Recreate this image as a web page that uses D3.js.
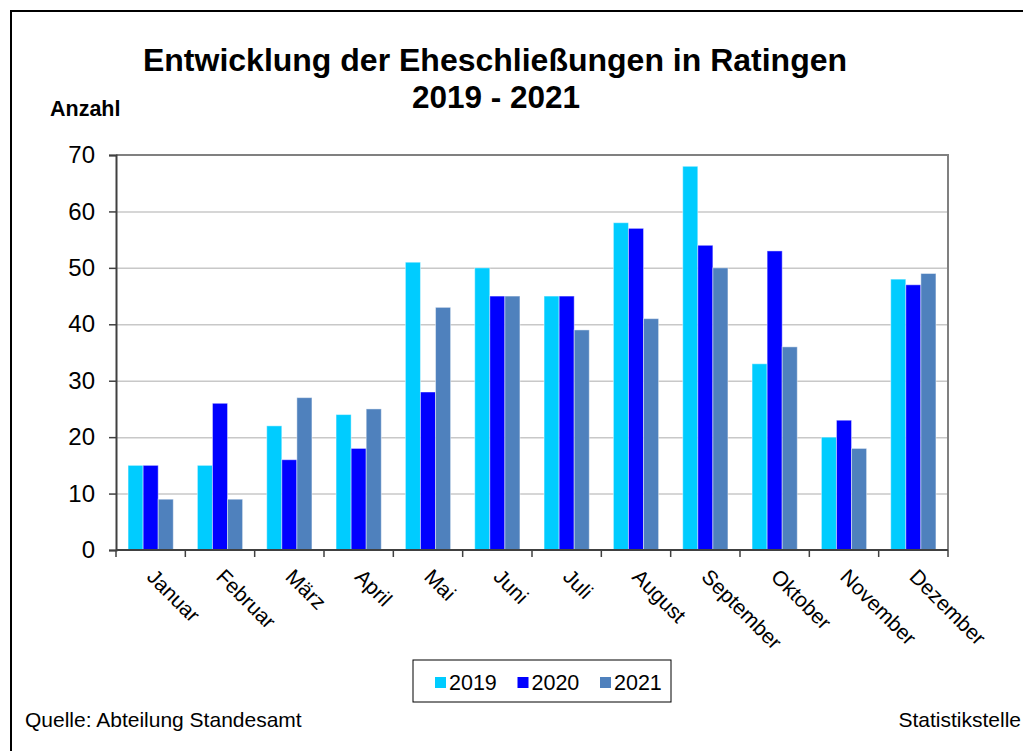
<!DOCTYPE html>
<html>
<head>
<meta charset="utf-8">
<script src="https://cdn.jsdelivr.net/npm/d3@7"></script>
<style>
  body { margin: 0; background: #fff; }
  svg { display: block; font-family: "Liberation Sans", Arial, sans-serif; }
</style>
</head>
<body>
<div id="chart"></div>
<script>
const months = ['Januar', 'Februar', 'März', 'April', 'Mai', 'Juni', 'Juli', 'August', 'September', 'Oktober', 'November', 'Dezember']
const years = ['2019', '2020', '2021']
const v2019 = [15, 15, 22, 24, 51, 50, 45, 58, 68, 33, 20, 48]
const v2020 = [15, 26, 16, 18, 28, 45, 45, 57, 54, 53, 23, 47]
const v2021 = [9, 9, 27, 25, 43, 45, 39, 41, 50, 36, 18, 49]
const yTicks = [0, 10, 20, 30, 40, 50, 60, 70]
const colors = ['#00ccff', '#0000ff', '#4f81bd']

const series = [v2019, v2020, v2021]
const W = 1023, H = 751
const plot = { left: 116, right: 948, top: 155, bottom: 550 }

const svg = d3.select('#chart').append('svg').attr('width', W).attr('height', H)

// outer frame (runs off the right and bottom edge)
svg.append('rect')
  .attr('x', 11).attr('y', 11).attr('width', W + 20).attr('height', H + 20)
  .attr('fill', 'none').attr('stroke', '#000').attr('stroke-width', 2)

const x = d3.scaleBand().domain(months).range([plot.left, plot.right])
const inner = d3.scaleBand().domain(years).range([0, x.bandwidth()]).paddingOuter(0.8).paddingInner(0)
const y = d3.scaleLinear().domain([0, 70]).range([plot.bottom, plot.top])

// grid
svg.append('g')
  .selectAll('line')
  .data(yTicks.filter(d => d > 0 && d < 70))
  .enter()
  .append('line')
  .attr('x1', plot.left).attr('x2', plot.right)
  .attr('y1', d => y(d) + 0.5).attr('y2', d => y(d) + 0.5)
  .attr('stroke', '#c8c8c8').attr('stroke-width', 1.5)

// top and right frame of plot area
svg.append('path')
  .attr('d', `M${plot.left},${plot.top}H${plot.right}V${plot.bottom}`)
  .attr('fill', 'none').attr('stroke', '#808080').attr('stroke-width', 2)

// bars
const groups = svg.append('g')
  .selectAll('g')
  .data(months)
  .enter()
  .append('g')
  .attr('transform', m => `translate(${x(m)},0)`)

groups.selectAll('rect')
  .data((m, i) => years.map((yr, k) => ({ yr, k, v: series[k][i] })))
  .enter()
  .append('rect')
  .attr('x', d => inner(d.yr))
  .attr('width', inner.bandwidth())
  .attr('y', d => y(d.v))
  .attr('height', d => y(0) - y(d.v))
  .attr('fill', d => colors[d.k])
  .attr('stroke', 'rgba(255,255,255,0.45)')
  .attr('stroke-width', 1)

// y axis
const yAxis = svg.append('g')
  .attr('transform', `translate(${plot.left},0)`)
  .call(d3.axisLeft(y).tickValues(yTicks).tickSize(7).tickPadding(14))
yAxis.select('.domain').attr('stroke', '#404040').attr('stroke-width', 2)
yAxis.selectAll('.tick line').attr('stroke', '#404040').attr('stroke-width', 1.5)
yAxis.selectAll('.tick text').attr('font-size', 24).attr('fill', '#000')
  .attr('font-family', '"Liberation Sans", Arial, sans-serif')

// x axis
const xAxis = svg.append('g').attr('transform', `translate(0,${plot.bottom})`)
xAxis.append('line')
  .attr('x1', plot.left).attr('x2', plot.right)
  .attr('stroke', '#404040').attr('stroke-width', 2)
xAxis.selectAll('.xt')
  .data(months.map(m => x(m)).concat([plot.right]))
  .enter()
  .append('line')
  .attr('x1', d => d).attr('x2', d => d)
  .attr('y1', 0).attr('y2', 7)
  .attr('stroke', '#404040').attr('stroke-width', 1.5)
xAxis.selectAll('text')
  .data(months)
  .enter()
  .append('text')
  .attr('transform', m => `translate(${x(m) + x.bandwidth() / 2 - 5},${28}) rotate(45)`)
  .attr('font-size', 21)
  .text(m => m)

// title
svg.append('text')
  .attr('x', 495).attr('y', 71).attr('text-anchor', 'middle')
  .attr('font-size', 32).attr('font-weight', 'bold')
  .text('Entwicklung der Eheschließungen in Ratingen')
svg.append('text')
  .attr('x', 496).attr('y', 108).attr('text-anchor', 'middle')
  .attr('font-size', 31.5).attr('font-weight', 'bold')
  .text('2019 - 2021')
svg.append('text')
  .attr('x', 50).attr('y', 116)
  .attr('font-size', 21.5).attr('font-weight', 'bold')
  .text('Anzahl')

// legend
const legend = svg.append('g').attr('transform', 'translate(413,660)')
legend.append('rect')
  .attr('width', 258).attr('height', 42)
  .attr('fill', '#fff').attr('stroke', '#000').attr('stroke-width', 1)
const item = legend.selectAll('.item')
  .data(years)
  .enter()
  .append('g')
  .attr('transform', (d, i) => `translate(${22 + i * 82.5},0)`)
item.append('rect')
  .attr('x', 0).attr('y', 17).attr('width', 11).attr('height', 11)
  .attr('fill', (d, i) => colors[i])
item.append('text')
  .attr('x', 14).attr('y', 30)
  .attr('font-size', 21.5)
  .text(d => d)

// footer
svg.append('text')
  .attr('x', 25).attr('y', 727).attr('font-size', 21)
  .text('Quelle: Abteilung Standesamt')
svg.append('text')
  .attr('x', 1021).attr('y', 727).attr('font-size', 21).attr('text-anchor', 'end')
  .text('Statistikstelle')
</script>
</body>
</html>
